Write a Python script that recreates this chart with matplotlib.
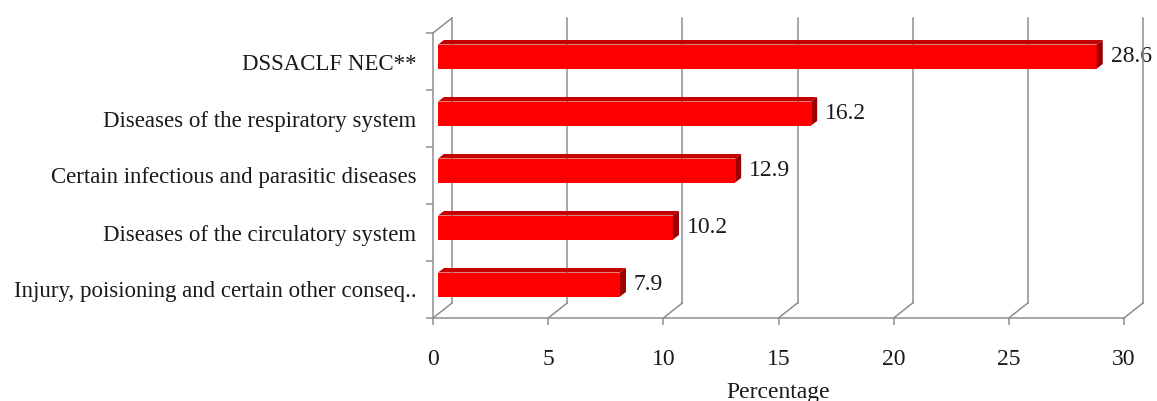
import matplotlib.pyplot as plt
from matplotlib.patches import Polygon

categories = ['DSSACLF NEC**',
              'Diseases of the respiratory system',
              'Certain infectious and parasitic diseases',
              'Diseases of the circulatory system',
              'Injury, poisioning and certain other conseq..']
values = [28.6, 16.2, 12.9, 10.2, 7.9]
xticks = [0, 5, 10, 15, 20, 25, 30]

plt.rcParams['font.family'] = ['Liberation Serif', 'DejaVu Serif']

W, H = 1157, 401
fig = plt.figure(figsize=(W / 100, H / 100), dpi=100)
left, right, top, bottom = 433, 1124, 33, 318
ax = fig.add_axes([left / W, 1 - bottom / H, (right - left) / W, (bottom - top) / H])
n = len(categories)
ax.set_xlim(0, 30)
ax.set_ylim(n - 0.5, -0.5)

# pixel -> data scale, used for the fake 3d depth
ppx = (right - left) / 30
ppy = (bottom - top) / n
DX, DY = 19 / ppx, 15 / ppy

grid = '#8e8e8e'
lw = 1.1
fs = 17
txt = '#1a1a1a'

for s in ['top', 'right']:
    ax.spines[s].set_visible(False)
for s in ['left', 'bottom']:
    ax.spines[s].set_color(grid)
    ax.spines[s].set_linewidth(lw)

# back wall + floor
for v in xticks:
    ax.plot([v + DX, v + DX], [n - 0.5 - DY, -0.5 - DY], color=grid, lw=lw, clip_on=False, zorder=2)
    ax.plot([v, v + DX], [n - 0.5, n - 0.5 - DY], color=grid, lw=lw, clip_on=False, zorder=2)
ax.plot([0, DX], [-0.5, -0.5 - DY], color=grid, lw=lw, clip_on=False, zorder=2)

# bars
h = 24 / ppy
fx, fy = 5 / ppx, 5 / ppy
sx, sy = 6 / ppx, 4.5 / ppy
for i, v in enumerate(values):
    x0, x1 = fx, v + fx
    yt, yb = i - h / 2 - fy, i + h / 2 - fy
    ax.barh(i - fy, v, left=fx, height=h, color='#ff0000', zorder=3)
    ax.add_patch(Polygon([(x0, yt), (x1, yt), (x1 + sx, yt - sy), (x0 + sx, yt - sy)],
                         closed=True, facecolor='#c40000', edgecolor='none', zorder=3))
    ax.add_patch(Polygon([(x1, yt), (x1 + sx, yt - sy), (x1 + sx, yb - sy), (x1, yb)],
                         closed=True, facecolor='#9a0000', edgecolor='none', zorder=3))
    ax.text(x1 + 14 / ppx, i - fy, f'{v}', va='center', ha='left',
            fontsize=fs, color=txt, zorder=1.5)

ax.set_xticks(xticks)
ax.set_xticklabels([str(t) for t in xticks])
ax.tick_params(axis='x', length=5, width=lw, color=grid, pad=17.5, labelsize=fs, labelcolor=txt)

ax.set_yticks([k - 0.5 for k in range(n + 1)])
ax.set_yticklabels([])
ax.set_yticks(range(n), minor=True)
ax.set_yticklabels(categories, minor=True)
ax.tick_params(axis='y', which='major', length=5, width=lw, color=grid)
ax.tick_params(axis='y', which='minor', length=0, pad=12, labelsize=16.5, labelcolor=txt)

ax.set_xlabel('Percentage', fontsize=fs, color=txt, labelpad=8.5)

fig.savefig('out.png', dpi=100)
